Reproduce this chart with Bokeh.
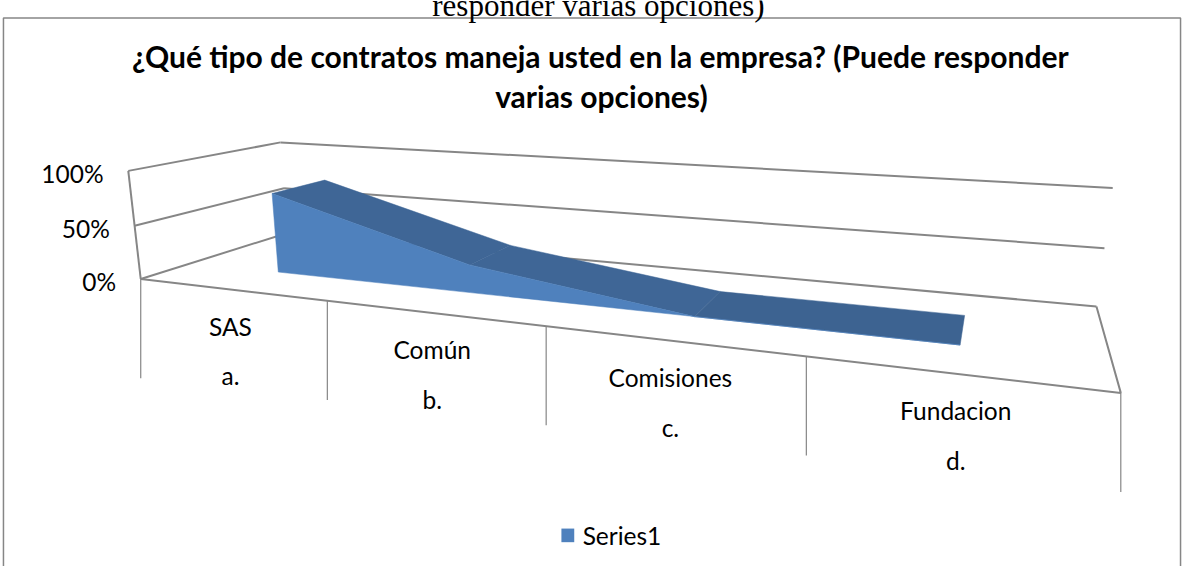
import numpy as np
from bokeh.plotting import figure
from bokeh.models import Range1d
from bokeh.core.properties import value
from bokeh.embed import file_html
from bokeh.resources import INLINE

# ---------------- data ----------------
title_lines = ["¿Qué tipo de contratos maneja usted en la empresa? (Puede responder",
               "varias opciones)"]
doc_caption = "responder varias opciones)"
categories = ["SAS", "Común", "Comisiones", "Fundacion"]
letters = ["a.", "b.", "c.", "d."]
series_name = "Series1"
values = [0.75, 0.25, 0.0, 0.0]
value_ticks = [0.0, 0.5, 1.0]
tick_labels = ["0%", "50%", "100%"]

# ---------------- 3D projection (camera fitted to the box layout) ----------------
# world: (X along categories 0..4, V value 0..1, Z depth 0 front .. 1 back)
ANCHOR_WORLD = [(0, 0, 0), (1, 0, 0), (2, 0, 0), (3, 0, 0), (4, 0, 0),
                (0, 0, 1), (4, 0, 1), (0, 1, 0), (0, 1, 1), (4, 1, 1),
                (0, 0.5, 0), (0, 0.5, 1), (4, 0.5, 1)]
ANCHOR_SCREEN = [(143, 286), (331, 310), (552, 335), (818, 366), (1135, 403),
                 (290, 239), (1111, 314), (128, 175), (285, 146), (1127, 193),
                 (137, 231), (287, 193), (1119, 255)]


def fit_camera(world, screen):
    s = np.array(screen, float)
    m = s.mean(axis=0)
    sc = np.sqrt(2) / np.mean(np.linalg.norm(s - m, axis=1))
    T = np.array([[sc, 0, -sc * m[0]], [0, sc, -sc * m[1]], [0, 0, 1]])
    rows = []
    for (X, Y, Z), (u, v) in zip(world, screen):
        u, v, _ = T @ np.array([u, v, 1.0])
        rows.append([X, Y, Z, 1, 0, 0, 0, 0, -u * X, -u * Y, -u * Z, -u])
        rows.append([0, 0, 0, 0, X, Y, Z, 1, -v * X, -v * Y, -v * Z, -v])
    _, _, vt = np.linalg.svd(np.array(rows, float))
    P = vt[-1].reshape(3, 4)
    return np.linalg.inv(T) @ P


CAM = fit_camera(ANCHOR_WORLD, ANCHOR_SCREEN)


def proj(X, V, Z):
    X, V, Z = np.broadcast_arrays(np.asarray(X, float), np.asarray(V, float), np.asarray(Z, float))
    h = CAM @ np.vstack([X.ravel(), V.ravel(), Z.ravel(), np.ones(X.size)])
    return h[0] / h[2], h[1] / h[2]


N = len(categories)
Z_FRONT, Z_BACK = 0.31, 0.69
GRAY = "#868686"
FONT = value("Lato")
LABEL_SIZE = "24.5px"

# drawing space = 1199 x 582 layout units, mapped by Bokeh's scales onto the canvas
W, H = 1183, 566
p = figure(width=W, height=H, output_backend="svg", toolbar_location=None,
           x_range=Range1d(0, 1199), y_range=Range1d(582, 0),
           min_border=0, outline_line_color=None)
p.axis.visible = False
p.grid.visible = False
p.background_fill_color = "white"

# chart frame
p.quad(left=[3], right=[1196], top=[18], bottom=[640], fill_color=None,
       line_color=GRAY, line_width=1.5)

# document caption (cut at top, as in the source page)
p.text(x=[606], y=[5], text=[doc_caption], text_font=value("Liberation Serif"),
       text_font_size="31px", text_align="center", text_baseline="alphabetic", text_color="black")

# title
p.text(x=[608, 609], y=[57, 98], text=title_lines, text_font=FONT, text_font_style="bold",
       text_font_size="30px", text_align="center", text_baseline="middle", text_color="black")

# ---------------- walls & gridlines ----------------
xs, ys = [], []
for v in value_ticks:
    lx, ly = proj([0, 0], [v, v], [0, 1])          # left wall
    xs.append(list(lx)); ys.append(list(ly))
    bx, by = proj([0, N], [v, v], [1, 1])          # back wall
    xs.append(list(bx)); ys.append(list(by))
ex, ey = proj([0, 0], [0, value_ticks[-1]], [0, 0])  # left wall front edge
xs.append(list(ex)); ys.append(list(ey))
fx, fy = proj([0, N, N], [0, 0, 0], [0, 0, 1])       # floor front + right edge
xs.append(list(fx)); ys.append(list(fy))
p.multi_line(xs=xs, ys=ys, line_color=GRAY, line_width=2)

# category dividers under the front edge
TICK_LEN = 102
dx, dy = proj(np.arange(N + 1), np.zeros(N + 1), np.zeros(N + 1))
p.segment(x0=dx, y0=dy, x1=dx, y1=dy + TICK_LEN, line_color=GRAY, line_width=1.2)

# value tick labels
vx, vy = proj(np.zeros(len(value_ticks)), value_ticks, np.zeros(len(value_ticks)))
p.text(x=vx - 25, y=vy + 3, text=tick_labels, text_font=FONT, text_font_size=LABEL_SIZE,
       text_align="right", text_baseline="middle", text_color="black")

# category labels (two levels)
cx, cy = proj(np.arange(N) + 0.5, np.zeros(N), np.zeros(N))
p.text(x=cx, y=cy + 38, text=categories, text_font=FONT, text_font_size=LABEL_SIZE,
       text_align="center", text_baseline="middle", text_color="black")
p.text(x=cx, y=cy + 89, text=letters, text_font=FONT, text_font_size=LABEL_SIZE,
       text_align="center", text_baseline="middle", text_color="black")

# ---------------- 3D area series ----------------
Xc = np.arange(N) + 0.5
vals = np.array(values, float)
ftx, fty = proj(Xc, vals, np.full(N, Z_FRONT))
btx, bty = proj(Xc, vals, np.full(N, Z_BACK))
top_xs, top_ys, top_col = [], [], []
for i in range(N - 1):
    top_xs.append([ftx[i], ftx[i + 1], btx[i + 1], btx[i]])
    top_ys.append([fty[i], fty[i + 1], bty[i + 1], bty[i]])
    top_col.append("#3F6696" if vals[i] != vals[i + 1] else "#3D6391")
p.patches(xs=top_xs, ys=top_ys, fill_color=top_col, line_color=top_col, line_width=0.5)

fbx, fby = proj(Xc[::-1], np.zeros(N), np.full(N, Z_FRONT))
p.patch(x=np.concatenate([ftx, fbx]), y=np.concatenate([fty, fby]),
        fill_color="#4F81BD", line_color="#4F81BD", line_width=0.5)

# legend
p.rect(x=[575], y=[550], width=13, height=14, fill_color="#4F81BD", line_color=None)
p.text(x=[590], y=[550], text=[series_name], text_font=FONT, text_font_size=LABEL_SIZE,
       text_align="left", text_baseline="middle", text_color="black")

open("out.html", "w").write(file_html(p, INLINE))
